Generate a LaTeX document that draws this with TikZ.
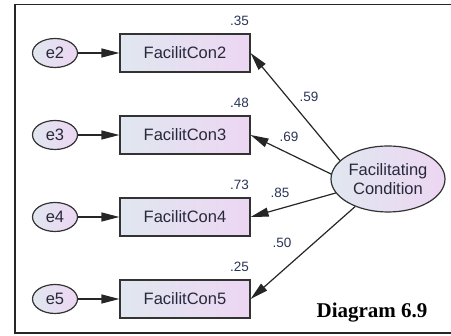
\documentclass[tikz,border=0pt]{standalone}
\usepackage{fontspec}
\setmainfont{Liberation Sans}
\newfontfamily\capfont{Liberation Serif}
\usetikzlibrary{positioning,calc,arrows.meta,shapes.geometric}

\definecolor{fillL}{RGB}{224,231,240}
\definecolor{fillR}{RGB}{237,214,242}
\definecolor{txtdark}{RGB}{40,40,60}
\definecolor{coefcol}{RGB}{40,52,85}

\tikzset{
  shade box/.style={left color=fillL,right color=fillR,draw=black!80,line width=1.2pt},
  errvar/.style={shade box,ellipse,minimum width=45pt,minimum height=29pt,inner sep=0pt,
    font=\fontsize{16.5}{18}\selectfont,text=txtdark},
  indicator/.style={shade box,rectangle,minimum width=130pt,minimum height=38pt,inner sep=0pt,
    font=\fontsize{16.5}{18}\selectfont,text=txtdark},
  latent/.style={shade box,ellipse,minimum width=114pt,minimum height=66pt,inner sep=0pt,
    align=center,font=\fontsize{16.5}{19}\selectfont,text=txtdark},
  coef/.style={font=\fontsize{13.5}{14}\selectfont,text=coefcol,inner sep=0pt},
  path/.style={draw=black!85,line width=1.2pt,-{Triangle[length=18pt,width=9pt]}},
}

\begin{document}
\begin{tikzpicture}[x=1pt,y=-1pt]
  \useasboundingbox (0,0) rectangle (451,336);
  \draw[line width=1.5pt,black!85] (470,4.5) -- (15,4.5) -- (15,333) -- (470,333);

  % observed items with their errors
  \foreach \i/\y in {2/53,3/135,4/217,5/299} {
    \node[errvar] (e\i) at (55,\y) {e\i};
    \node[indicator] (FC\i) at (185,\y) {FacilitCon\i};
    \draw[path] (e\i) -- (FC\i);
  }

  % latent factor
  \node[latent] (FC) at (388,179) {Facilitating\\Condition};
  \foreach \i/\a in {2/159,3/175,4/195,5/220} {\draw[path] (FC.\a) -- (FC\i.east);}

  % squared multiple correlations
  \foreach \i/\r in {2/.35,3/.48,4/.73,5/.25} {
    \node[coef] (r\i) at ([xshift=-11pt,yshift=13pt]FC\i.north east) {\r};
  }

  % loadings
  \node[coef] (l2) at (309,97) {.59};
  \node[coef] (l3) at (289,137) {.69};
  \node[coef] (l4) at (280,193) {.85};
  \node[coef] (l5) at (282,243) {.50};

  \node[font=\capfont\bfseries\fontsize{21}{24}\selectfont] (cap) at (372,313) {Diagram 6.9};
\end{tikzpicture}
\end{document}
